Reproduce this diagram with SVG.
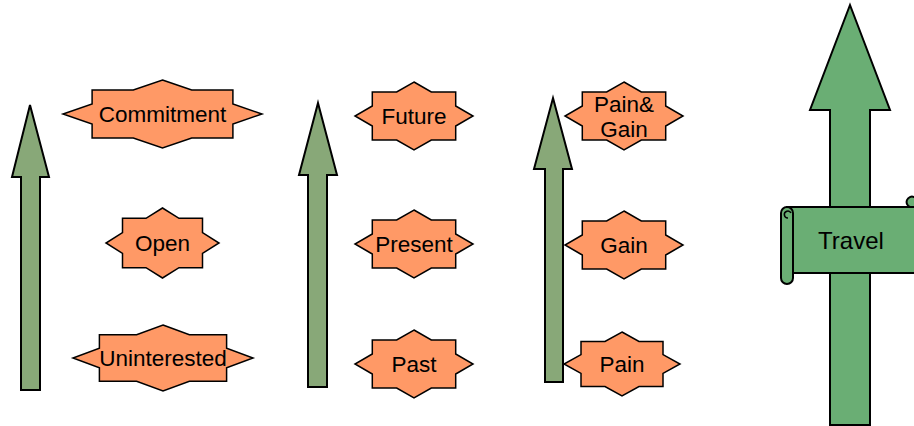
<svg xmlns="http://www.w3.org/2000/svg" width="914" height="426" viewBox="0 0 914 426">
<style>
.star{fill:#ff9966;stroke:#000;stroke-width:1.5;stroke-linejoin:miter}
.arr{fill:#88a878;stroke:#000;stroke-width:2}
.big{fill:#6aae74;stroke:#000;stroke-width:2}
text{font-family:"Liberation Sans",Arial,sans-serif;font-size:22.5px;fill:#000;text-anchor:middle;dominant-baseline:central}
</style>
<g id="arrow1"><polygon class="arr" points="30,105 49,177 40,177 40,390 21,390 21,177 12,177"/></g>
<g id="arrow2"><polygon class="arr" points="318,103 337,175 327,175 327,387 308,387 308,175 299,175"/></g>
<g id="arrow3"><polygon class="arr" points="553,98 572,169 563,169 563,382 545,382 545,169 534,169"/></g>
<g id="travel">
<polygon class="big" points="850,5 890,110 870,110 870,425 830,425 830,110 810,110"/>
<path class="big" d="M787,207 H920 V273 H793 Z"/>
<path class="big" d="M910,207 a4,4 0 0 1 4,-10 L920,197 V207 Z"/>
<rect class="big" x="781" y="207" width="12" height="77" rx="6"/>
<path d="M788,218 a3.5,3.5 0 1 1 3,-5" fill="none" stroke="#000" stroke-width="1.5"/>
<text x="851" y="240" style="font-size:24px">Travel</text>
</g>
<g id="commitment"><polygon class="star" points="162.5,80 191.7,90 232.9,90 232.9,104 262,114 232.9,124 232.9,138 191.7,138 162.5,148 133.3,138 92.1,138 92.1,124 63,114 92.1,104 92.1,90 133.3,90"/><text x="162.5" y="114">Commitment</text></g>
<g id="open"><polygon class="star" points="162.5,208 179,218.3 202.5,218.3 202.5,232.7 219,243 202.5,253.3 202.5,267.7 179,267.7 162.5,278 146,267.7 122.5,267.7 122.5,253.3 106,243 122.5,232.7 122.5,218.3 146,218.3"/><text x="162.5" y="243">Open</text></g>
<g id="uninterested"><polygon class="star" points="163,325 189.4,334.7 226.6,334.7 226.6,348.3 253,358 226.6,367.7 226.6,381.3 189.4,381.3 163,391 136.6,381.3 99.4,381.3 99.4,367.7 73,358 99.4,348.3 99.4,334.7 136.6,334.7"/><text x="163" y="358">Uninterested</text></g>
<g id="future"><polygon class="star" points="414,82 431.3,92 455.7,92 455.7,106 473,116 455.7,126 455.7,140 431.3,140 414,150 396.7,140 372.3,140 372.3,126 355,116 372.3,106 372.3,92 396.7,92"/><text x="414" y="116">Future</text></g>
<g id="present"><polygon class="star" points="414,210 431.3,220 455.7,220 455.7,234 473,244 455.7,254 455.7,268 431.3,268 414,278 396.7,268 372.3,268 372.3,254 355,244 372.3,234 372.3,220 396.7,220"/><text x="414" y="244">Present</text></g>
<g id="past"><polygon class="star" points="414,330 431.3,340 455.7,340 455.7,354 473,364 455.7,374 455.7,388 431.3,388 414,398 396.7,388 372.3,388 372.3,374 355,364 372.3,354 372.3,340 396.7,340"/><text x="414" y="364">Past</text></g>
<g id="paingain"><polygon class="star" points="624,82 641.3,92 665.7,92 665.7,106 683,116 665.7,126 665.7,140 641.3,140 624,150 606.7,140 582.3,140 582.3,126 565,116 582.3,106 582.3,92 606.7,92"/><text x="624" y="104">Pain&amp;</text><text x="624" y="129">Gain</text></g>
<g id="gain"><polygon class="star" points="624,211 641.3,221 665.7,221 665.7,235 683,245 665.7,255 665.7,269 641.3,269 624,279 606.7,269 582.3,269 582.3,255 565,245 582.3,235 582.3,221 606.7,221"/><text x="624" y="245">Gain</text></g>
<g id="pain"><polygon class="star" points="622,332 639,341.4 663,341.4 663,354.6 680,364 663,373.4 663,386.6 639,386.6 622,396 605,386.6 581,386.6 581,373.4 564,364 581,354.6 581,341.4 605,341.4"/><text x="622" y="364">Pain</text></g>
<g id="connectors"/>
</svg>
